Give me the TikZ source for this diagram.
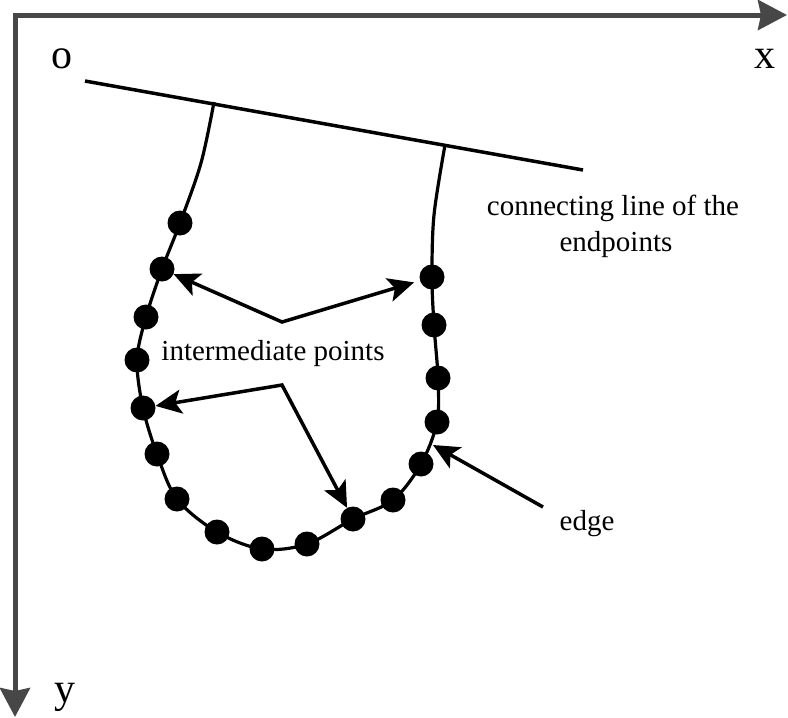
\documentclass[tikz,border=0pt]{standalone}
\usepackage{fontspec}
\setmainfont{Liberation Serif}
\usetikzlibrary{arrows.meta}
\definecolor{axisgray}{HTML}{474747}
\begin{document}
\begin{tikzpicture}[x=1pt,y=-1pt,
  axis/.style={draw=axisgray, line width=5pt, line join=miter,
    {Stealth[length=29pt,width=30pt,inset=3pt]}-{Stealth[length=29pt,width=30pt,inset=3pt]}},
  dot/.style={circle, fill=black, inner sep=0pt, minimum size=25pt},
  pointer/.style={line width=3.5pt, line join=miter, -{Stealth[length=26pt,width=24pt,inset=6pt]}},
  pointer2/.style={line width=3.5pt, line join=miter,
    {Stealth[length=26pt,width=24pt,inset=6pt]}-{Stealth[length=26pt,width=24pt,inset=6pt]}},
  lbl/.style={font=\fontsize{29}{36}\selectfont, anchor=base, inner sep=0pt},
  axlbl/.style={font=\fontsize{42}{48}\selectfont, anchor=base, inner sep=0pt}]
\useasboundingbox (0,0) rectangle (788,718);
% axes
\coordinate (O) at (15,15);
\coordinate (X) at (787,15);
\coordinate (Y) at (15,717);
\draw[axis] (X) -- (O) -- (Y);
\node[axlbl] (lo) at (62,68) {o};
\node[axlbl] (lx) at (765,68) {x};
\node[axlbl] (ly) at (65,702) {y};
% connecting line
\coordinate (L1) at (85,81);
\coordinate (L2) at (583,170);
\draw[line width=3.5pt] (L1) -- (L2);
% edge curve
\draw[line width=3.2pt] plot[smooth, tension=0.55] coordinates {
  (214,102) (201,163) (180,223) (162,269) (146,317) (137,360) (143,408)
  (157,454) (177,499) (217,532) (262,549) (307,544) (353,519) (393,500)
  (421,464) (437,422) (438,378) (434,325) (432,277) (434,215) (445,145)};
% dots
\node[dot] (d1) at (180,223) {};
\node[dot] (d2) at (162,269) {};
\node[dot] (d3) at (146,317) {};
\node[dot] (d4) at (137,360) {};
\node[dot] (d5) at (143,408) {};
\node[dot] (d6) at (157,454) {};
\node[dot] (d7) at (177,499) {};
\node[dot] (d8) at (217,532) {};
\node[dot] (d9) at (262,549) {};
\node[dot] (d10) at (307,544) {};
\node[dot] (d11) at (353,519) {};
\node[dot] (d12) at (393,500) {};
\node[dot] (d13) at (421,464) {};
\node[dot] (d14) at (437,422) {};
\node[dot] (d15) at (438,378) {};
\node[dot] (d16) at (434,325) {};
\node[dot] (d17) at (432,277) {};
% pointers
\coordinate (a1) at (282,322);
\coordinate (a2) at (282,385);
\draw[pointer2, shorten >=6pt] (d2) -- (a1) -- (d17);
\draw[pointer2] (d5) -- (a2) -- (d11);
\coordinate (e1) at (543,507);
\coordinate (e2) at (433,445);
\draw[pointer] (e1) -- (e2);
% labels
\node[lbl] (t1) at (613,215) {connecting line of the};
\node[lbl] (t2) at (616,251) {endpoints};
\node[lbl] (t3) at (273,360) {intermediate points};
\node[lbl] (t4) at (587,530) {edge};
\end{tikzpicture}
\end{document}
